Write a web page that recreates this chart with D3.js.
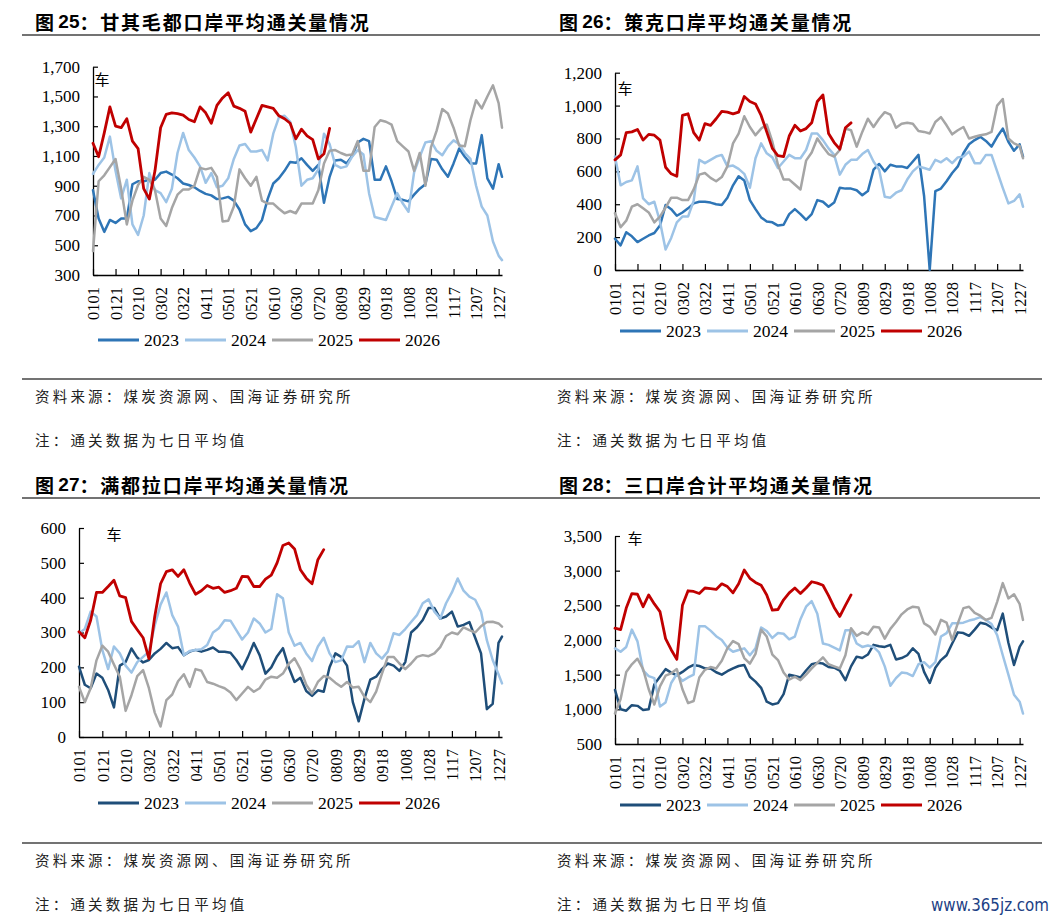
<!DOCTYPE html>
<html><head><meta charset="utf-8">
<script src="https://cdnjs.cloudflare.com/ajax/libs/d3/7.8.5/d3.min.js"></script>
<style>body{margin:0;background:#fff;} svg{display:block}</style>
</head><body>
<svg id="c" width="1054" height="921"></svg>
<script>
// ---------- DATA ----------
// day-of-year sample points (0 = Jan 1)
const days = [0,5,10,15,20,25,30,35,40,45,50,55,60,65,70,75,80,85,90,95,100,105,110,115,120,125,130,135,140,145,150,155,160,165,170,175,180,185,190,195,200,205,210,215,220,225,230,235,240,245,250,255,260,265,270,275,280,285,290,295,300,305,310,315,320,325,330,335,340,345,350,355,360,363];
const tickDays = [0,20,40,60,80,100,120,140,160,180,200,220,240,260,280,300,320,340,360];
const tickLabels = ["0101","0121","0210","0302","0322","0411","0501","0521","0610","0630","0720","0809","0829","0918","1008","1028","1117","1207","1227"];
const years = ["2023","2024","2025","2026"];

// 图25 甘其毛都
const gqmd2023 = [870,680,590,670,650,680,680,910,930,930,940,940,985,995,975,950,915,905,890,865,845,835,810,815,825,800,740,640,595,615,670,810,915,950,1000,1060,1055,1085,1040,1000,1040,785,960,1070,1075,1050,1100,1190,1215,1200,940,940,1030,930,810,805,795,840,880,910,1080,1075,1010,960,1050,1150,1095,1050,1050,1240,950,880,1045,960];
const gqmd2024 = [980,1040,1090,1230,1000,815,940,640,570,700,985,870,850,790,880,1120,1255,1140,1090,1030,920,985,890,900,950,1080,1170,1180,1130,1130,1140,1070,1250,1360,1370,1330,1160,900,940,950,1010,1250,1180,1040,1020,1030,1095,1140,1110,850,690,680,670,760,850,780,725,990,1095,1190,1200,1135,1105,1165,1205,1180,1120,1080,900,760,700,525,430,400];
const gqmd2025 = [460,930,970,1025,1080,880,640,800,905,960,940,870,680,630,750,840,875,875,900,1020,1010,1020,960,660,665,760,1010,950,900,960,800,780,780,745,715,730,715,780,780,780,870,1050,1135,1140,1120,1105,1110,1200,1000,1000,1295,1340,1330,1310,1200,1165,1130,1000,1120,900,1160,1270,1415,1385,1290,1170,1165,1340,1475,1420,1500,1575,1455,1290];
const gqmd2026 = [1185,1095,1255,1430,1300,1290,1350,1200,1150,880,810,1000,1290,1380,1390,1385,1375,1345,1330,1430,1390,1320,1440,1490,1525,1435,1420,1400,1260,1350,1440,1430,1420,1370,1350,1320,1215,1280,1235,1210,1080,1115,1285];

// 图26 策克
const ck2023 = [190,150,230,205,170,190,210,225,270,395,370,330,350,375,405,415,415,410,400,395,440,515,570,545,425,370,320,295,290,270,275,340,370,340,305,340,425,415,385,410,500,495,495,485,455,480,610,645,600,640,630,630,620,660,700,450,0,480,495,540,590,630,710,765,790,810,785,750,810,860,780,725,765,690];
const ck2024 = [690,515,535,545,630,435,400,415,295,125,195,290,325,325,420,670,650,670,690,700,630,635,615,585,500,680,770,710,685,620,660,700,680,680,730,830,830,790,740,700,580,640,670,670,705,730,660,610,445,440,470,485,550,600,630,620,610,670,655,680,650,685,690,720,650,650,700,700,600,500,405,420,460,385];
const ck2025 = [345,260,300,385,400,375,350,290,325,380,440,440,425,425,490,580,590,560,540,565,630,770,830,935,870,820,860,885,780,640,550,550,520,490,665,715,800,750,705,690,730,860,850,750,840,920,870,920,960,945,865,890,895,890,845,840,830,900,930,880,825,850,870,800,810,820,825,840,1000,1040,800,770,755,680];
const ck2026 = [670,700,835,840,855,790,825,820,790,625,585,570,940,950,835,790,890,880,920,965,960,950,960,1055,1025,1010,940,840,740,695,690,815,880,845,860,895,1025,1065,830,775,735,865,895];

// 图27 满都拉
const mdl2023 = [202,150,140,182,170,135,85,205,215,254,228,214,221,240,253,270,255,258,235,245,250,245,250,257,245,245,242,221,195,230,270,235,182,200,232,255,200,158,170,132,118,134,130,200,240,230,205,100,45,110,165,173,195,211,205,190,215,300,315,336,370,370,340,346,360,317,322,330,285,240,80,95,270,288];
const mdl2024 = [298,310,360,346,250,195,260,240,205,185,215,230,245,320,380,415,350,317,235,247,250,252,264,300,312,335,334,307,280,300,340,326,300,310,410,398,300,262,270,240,218,260,285,240,215,220,260,259,275,215,270,240,225,245,298,293,310,330,350,384,395,360,340,384,415,455,420,403,394,360,278,221,180,154];
const mdl2025 = [144,100,140,220,262,245,208,173,75,120,175,192,140,70,30,106,122,160,180,144,195,190,158,153,146,140,128,106,125,144,130,140,165,173,170,182,210,226,195,150,125,158,175,170,156,144,158,142,144,115,100,130,182,230,230,211,195,211,230,235,232,240,258,290,300,295,315,307,300,318,330,331,326,317];
const mdl2026 = [302,285,335,415,415,432,450,405,400,332,308,285,225,346,440,475,480,461,480,442,410,420,435,427,430,415,420,427,461,460,432,432,453,465,500,550,557,540,480,456,440,509,538];

// 图28 三口岸合计
const sk2023 = [1280,1000,980,1060,1050,990,1000,1360,1470,1580,1530,1490,1540,1600,1640,1625,1590,1590,1535,1500,1550,1590,1625,1640,1470,1400,1310,1110,1070,1090,1220,1500,1480,1460,1560,1650,1670,1660,1610,1600,1560,1420,1620,1760,1740,1790,1930,1910,1900,1930,1720,1740,1780,1880,1800,1540,1380,1600,1710,1780,1950,2110,2100,2060,2150,2250,2230,2180,2140,2380,1960,1640,1900,1980];
const sk2024 = [1880,1830,1900,2150,1980,1560,1480,1450,1040,1100,1380,1510,1410,1460,1500,2200,2200,2135,2055,2000,1890,1830,1855,1880,1780,1880,2180,2130,2030,2100,2090,2010,2050,2300,2480,2560,2380,1950,1930,1890,1850,2140,2140,1950,1900,1920,1900,1820,1620,1340,1450,1530,1520,1480,1650,1680,1600,1680,2050,2100,2240,2240,2250,2280,2300,2330,2290,2230,2070,1780,1500,1210,1110,940];
const sk2025 = [940,1150,1540,1650,1730,1580,1290,1070,1330,1485,1520,1580,1290,1090,1120,1460,1570,1610,1590,1700,1880,1985,1940,1740,1660,1800,2150,2050,1790,1710,1530,1430,1470,1420,1500,1590,1670,1750,1650,1620,1590,1780,2170,2060,2110,2080,2190,2180,2020,2160,2260,2370,2440,2480,2470,2240,2190,2080,2290,2250,2000,2240,2460,2480,2390,2350,2290,2320,2550,2820,2600,2660,2520,2290];
const sk2026 = [2170,2150,2460,2670,2660,2480,2650,2520,2410,2020,1860,1720,2500,2710,2700,2670,2750,2740,2730,2810,2770,2680,2810,3010,2890,2830,2790,2650,2430,2440,2580,2680,2750,2670,2750,2840,2820,2790,2640,2470,2340,2500,2650];

const yTicksGqmd = [300,500,700,900,1100,1300,1500,1700];
const yTicksCk = [0,200,400,600,800,1000,1200];
const yTicksMdl = [0,100,200,300,400,500,600];
const yTicksSk = [500,1000,1500,2000,2500,3000,3500];

const titles = ["甘其毛都口岸平均通关量情况","策克口岸平均通关量情况","满都拉口岸平均通关量情况","三口岸合计平均通关量情况"];
const figNums = ["25","26","27","28"];
const sourceText = "资料来源：煤炭资源网、国海证券研究所";
const noteText = "注：通关数据为七日平均值";

// ---------- LAYOUT / STYLE ----------
const panels = [
  {series:[gqmd2023,gqmd2024,gqmd2025,gqmd2026], yTicks:yTicksGqmd, col0:"#2e75b6",
   x0:93, x1:502, yTop:66.7, yBot:275, tx:35, ty:21, unit:[102,78], leg:{y:340, xs:[98,185,272,359]}},
  {series:[ck2023,ck2024,ck2025,ck2026], yTicks:yTicksCk, col0:"#2e75b6",
   x0:615, x1:1023, yTop:72.7, yBot:270, tx:559, ty:21, unit:[625,87], leg:{y:331, xs:[620,707,794,881]}},
  {series:[mdl2023,mdl2024,mdl2025,mdl2026], yTicks:yTicksMdl, col0:"#1f4e79",
   x0:79, x1:502, yTop:528, yBot:737, tx:35, ty:484, unit:[114,533], leg:{y:803, xs:[98,185,272,359]}},
  {series:[sk2023,sk2024,sk2025,sk2026], yTicks:yTicksSk, col0:"#1f4e79",
   x0:615, x1:1023, yTop:536, yBot:744, tx:559, ty:484, unit:[635,537], leg:{y:805, xs:[620,707,794,881]}}
];
const colors = (c0) => [c0, "#9dc3e6", "#a5a5a5", "#c00000"];
const serif = "'Liberation Serif','Times New Roman',serif";
const cjk = "'Noto Sans CJK SC','Noto Sans SC',sans-serif";

const svg = d3.select("#c");

// separator lines
[[35,22,1040,1.3],[379,22,1042,1.3],[498,22,1040,1.3],[843,22,1042,1.3]].forEach(([y,xa,xb,w])=>{
  svg.append("line").attr("x1",xa).attr("x2",xb).attr("y1",y).attr("y2",y)
    .attr("stroke","#444").attr("stroke-width",w);
});

// footers
[[35,395],[557,395],[35,859],[557,859]].forEach(([x,y])=>{
  svg.append("text").attr("x",x).attr("y",y).attr("dominant-baseline","central")
    .style("font-family",cjk).style("font-size","14.5px").style("letter-spacing","3.2px")
    .attr("fill","#222").text(sourceText);
  svg.append("text").attr("x",x).attr("y",y+44).attr("dominant-baseline","central")
    .style("font-family",cjk).style("font-size","14.5px").style("letter-spacing","3.2px")
    .attr("fill","#222").text(noteText);
});

// watermark
svg.append("text").attr("x",931).attr("y",905).attr("dominant-baseline","central")
  .attr("textLength",118).attr("lengthAdjust","spacingAndGlyphs")
  .style("font-family","'Liberation Sans Narrow','DejaVu Sans Condensed',sans-serif")
  .style("font-size","17px").attr("fill","#1d3f85").text("www.365jz.com");

panels.forEach((p, pi) => {
  const g = svg.append("g");
  // title
  const t = g.append("text").attr("x",p.tx).attr("y",p.ty).attr("dominant-baseline","central")
    .style("font-family",cjk).style("font-weight","bold").style("font-size","19px").attr("fill","#000");
  t.append("tspan").text("图 ");
  t.append("tspan").style("font-family","'Liberation Sans',Arial,sans-serif").text(figNums[pi]);
  t.append("tspan").style("letter-spacing","1.8px").text("：" + titles[pi]);

  const x = d3.scaleLinear().domain([0,363]).range([p.x0,p.x1]);
  const yd = d3.extent(p.yTicks);
  const y = d3.scaleLinear().domain(yd).range([p.yBot,p.yTop]);

  // y axis
  const ya = g.append("g").attr("transform",`translate(${p.x0},0)`)
    .call(d3.axisLeft(y).tickValues(p.yTicks).tickSizeInner(-5).tickSizeOuter(0).tickPadding(13)
      .tickFormat(d3.format(",")));
  ya.select(".domain").attr("stroke","#000").attr("stroke-width",1.3);
  ya.selectAll(".tick line").attr("stroke","#000").attr("stroke-width",1.2);
  ya.selectAll("text").style("font-family",serif).style("font-size","17px").attr("fill","#000");

  // x axis
  const xa = g.append("g").attr("transform",`translate(0,${p.yBot})`)
    .call(d3.axisBottom(x).tickValues(tickDays).tickSizeInner(-6).tickSizeOuter(0)
      .tickFormat((d,i)=>tickLabels[i]));
  xa.select(".domain").attr("stroke","#000").attr("stroke-width",1.3);
  xa.selectAll(".tick line").attr("stroke","#000").attr("stroke-width",1.2);
  xa.selectAll("text").attr("transform","rotate(-90)").attr("x",-12).attr("y",0).attr("dy","0.35em")
    .attr("text-anchor","end").style("font-family",serif).style("font-size","16.5px").attr("fill","#000");

  // unit label
  g.append("text").attr("x",p.unit[0]).attr("y",p.unit[1]).attr("text-anchor","middle")
    .attr("dominant-baseline","central").style("font-family",cjk).style("font-size","15px").text("车");

  // lines
  const cols = colors(p.col0);
  const line = d3.line().x((v,i)=>x(days[i])).y(v=>y(v));
  p.series.forEach((s, si) => {
    g.append("path").datum(s).attr("d",line).attr("fill","none")
      .attr("stroke",cols[si]).attr("stroke-width", si===3 ? 2.8 : 2.5)
      .attr("stroke-linejoin","round").attr("stroke-linecap","round");
  });

  // legend
  years.forEach((yr, si) => {
    const lx = p.leg.xs[si];
    g.append("line").attr("x1",lx).attr("x2",lx+41).attr("y1",p.leg.y).attr("y2",p.leg.y)
      .attr("stroke",cols[si]).attr("stroke-width",3.2);
    g.append("text").attr("x",lx+46).attr("y",p.leg.y).attr("dominant-baseline","central")
      .style("font-family",serif).style("font-size","17.5px").attr("fill","#000").text(yr);
  });
});
</script>
</body></html>
